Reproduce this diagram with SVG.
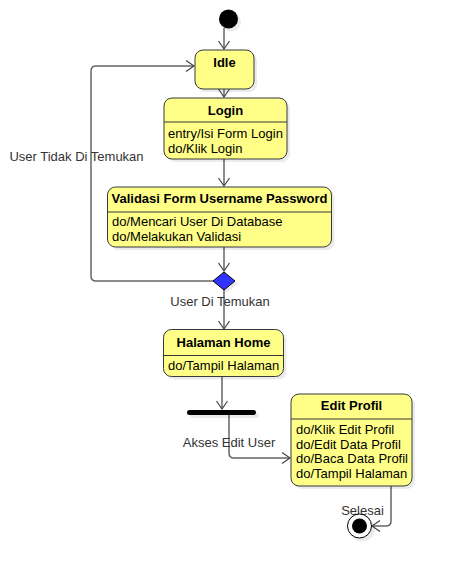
<svg xmlns="http://www.w3.org/2000/svg" width="452" height="579" viewBox="0 0 452 579">
<defs>
<marker id="arr" markerUnits="userSpaceOnUse" markerWidth="12" markerHeight="14" refX="9" refY="7" orient="auto" viewBox="0 0 12 14">
<path d="M1,1.5 L9,7 L1,12.5" fill="none" stroke="#444" stroke-width="1.2"/>
</marker>
</defs>
<style>
.box{fill:#ffff88;stroke:#36393d;stroke-width:1}
.shadow{fill:#000;opacity:0.08}
.div{stroke:#36393d;stroke-width:1}
.title{font-family:"Liberation Sans",Arial,sans-serif;font-size:13px;font-weight:bold;fill:#000;text-anchor:middle}
.body{font-family:"Liberation Sans",Arial,sans-serif;font-size:13px;fill:#000}
.lbl{font-family:"Liberation Sans",Arial,sans-serif;font-size:13px;fill:#333;text-anchor:middle}
.edge{fill:none;stroke:#666;stroke-width:1.5}
</style>
<rect width="452" height="579" fill="#fff"/>
<g id="connectors">
<path class="edge" d="M224,28 V49" marker-end="url(#arr)"/>
<path class="edge" d="M224,89 V97" marker-end="url(#arr)"/>
<path class="edge" d="M224,159 V186" marker-end="url(#arr)"/>
<path class="edge" d="M224,247 V271" marker-end="url(#arr)"/>
<path class="edge" d="M213,281 H96 Q91,281 91,276 V71 Q91,66 96,66 H194" marker-end="url(#arr)"/>
<path class="edge" d="M224,290 V329" marker-end="url(#arr)"/>
<path class="edge" d="M222,377 V409" marker-end="url(#arr)"/>
<path class="edge" d="M229,415 V453 Q229,458 234,458 H290" marker-end="url(#arr)"/>
<path class="edge" d="M391,486 V521 Q391,526 386,526 H372" marker-end="url(#arr)"/>
<text class="lbl" x="76.5" y="161">User Tidak Di Temukan</text>
<text class="lbl" x="220" y="306">User Di Temukan</text>
<text class="lbl" x="229" y="446.5">Akses Edit User</text>
<text class="lbl" x="362.5" y="515">Selesai</text>
</g>
<g id="start">
<circle cx="231.5" cy="22" r="9.5" class="shadow"/>
<circle cx="228.5" cy="19" r="9.5" fill="#000"/>
</g>
<g id="idle">
<rect class="shadow" x="198" y="53" width="59" height="39" rx="8"/>
<rect class="box" x="195" y="50" width="59" height="39" rx="8"/>
<text class="title" x="224.5" y="67">Idle</text>
</g>
<g id="login">
<rect class="shadow" x="167" y="101" width="123" height="61" rx="8"/>
<rect class="box" x="164" y="98" width="123" height="61" rx="8"/>
<line class="div" x1="164" y1="122" x2="287" y2="122"/>
<text class="title" x="225.5" y="115">Login</text>
<text class="body" x="168" y="138">entry/Isi Form Login</text>
<text class="body" x="168" y="153">do/Klik Login</text>
</g>
<g id="validasi">
<rect class="shadow" x="110.5" y="190" width="224" height="60" rx="8"/>
<rect class="box" x="107.5" y="187" width="224" height="60" rx="8"/>
<line class="div" x1="107.5" y1="212" x2="331.5" y2="212"/>
<text class="title" x="219.5" y="203">Validasi Form Username Password</text>
<text class="body" x="112" y="226">do/Mencari User Di Database</text>
<text class="body" x="112" y="241">do/Melakukan Validasi</text>
</g>
<g id="decision">
<path class="shadow" d="M227,275 L238,284 L227,293 L216,284 Z"/>
<path d="M224,272 L235,281 L224,290 L213,281 Z" fill="#3333ff" stroke="#000" stroke-width="1"/>
</g>
<g id="home">
<rect class="shadow" x="166.5" y="332.5" width="120" height="47" rx="8"/>
<rect class="box" x="163.5" y="329.5" width="120" height="47" rx="8"/>
<line class="div" x1="163.5" y1="355.5" x2="283.5" y2="355.5"/>
<text class="title" x="223.5" y="347">Halaman Home</text>
<text class="body" x="168" y="370">do/Tampil Halaman</text>
</g>
<g id="fork">
<rect class="shadow" x="190" y="413" width="69" height="5" rx="2.5"/>
<rect x="187" y="410" width="69" height="5" rx="2.5" fill="#000"/>
</g>
<g id="editprofil">
<rect class="shadow" x="294" y="397" width="121" height="92" rx="8"/>
<rect class="box" x="291" y="394" width="121" height="92" rx="8"/>
<line class="div" x1="291" y1="419" x2="412" y2="419"/>
<text class="title" x="351.5" y="410">Edit Profil</text>
<text class="body" x="296" y="434">do/Klik Edit Profil</text>
<text class="body" x="296" y="448.5">do/Edit Data Profil</text>
<text class="body" x="296" y="463">do/Baca Data Profil</text>
<text class="body" x="296" y="477.5">do/Tampil Halaman</text>
</g>
<g id="end">
<circle class="shadow" cx="362.5" cy="529" r="12.5"/>
<circle cx="359.5" cy="526" r="12" fill="#fff" stroke="#000" stroke-width="1"/>
<circle cx="359.5" cy="526" r="7.5" fill="#000"/>
</g>
</svg>
